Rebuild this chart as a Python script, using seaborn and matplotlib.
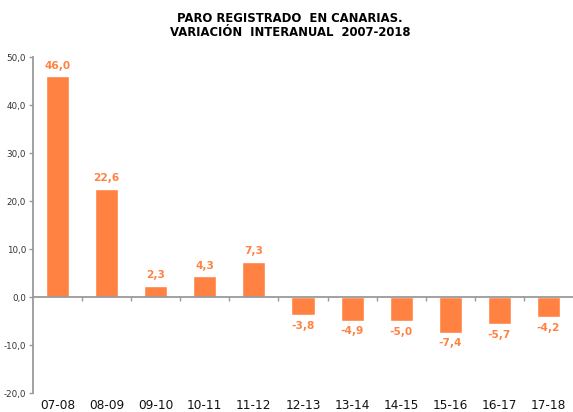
import matplotlib
matplotlib.use("Agg")
import matplotlib.pyplot as plt
import matplotlib.transforms as mtransforms
import seaborn as sns
import pandas as pd

# Data
periods = ["07-08", "08-09", "09-10", "10-11", "11-12", "12-13",
           "13-14", "14-15", "15-16", "16-17", "17-18"]
variation = [46.0, 22.6, 2.3, 4.3, 7.3, -3.8, -4.9, -5.0, -7.4, -5.7, -4.2]
y_ticks = [-20, -10, 0, 10, 20, 30, 40, 50]

orange = "#FF8243"
grey = "#9a9a9a"

df = pd.DataFrame({"periodo": periods, "variacion": variation})

sns.set_style("white")
plt.rcParams["font.family"] = ["DejaVu Sans"]

fig = plt.figure(figsize=(5.73, 4.12), dpi=100)
ax = fig.add_axes([33 / 573, 1 - 393 / 412, 1 - 33 / 573, (393 - 57) / 412])

sns.barplot(data=df, x="periodo", y="variacion", color=orange,
            saturation=1, width=0.47, ax=ax)

ax.set_ylim(-20, 50)
ax.set_xlim(-0.5, len(periods) - 0.5)
ax.set_yticks(y_ticks)
ax.set_yticklabels([f"{v:.1f}".replace(".", ",") for v in y_ticks],
                   fontsize=6.3, color="#333333")
ax.set_xlabel("")
ax.set_ylabel("")

# spines: left axis and the zero line
for side in ["top", "right"]:
    ax.spines[side].set_visible(False)
ax.spines["left"].set_color(grey)
ax.spines["left"].set_linewidth(1.3)
ax.spines["bottom"].set_position(("data", 0))
ax.spines["bottom"].set_color(grey)
ax.spines["bottom"].set_linewidth(1.3)

ax.tick_params(axis="y", direction="out", length=3, width=1, color=grey, pad=2, left=True)
# boundary ticks on the zero line
bounds = [i + 0.5 for i in range(len(periods) - 1)]
ax.set_xticks(bounds)
ax.set_xticklabels([])
ax.tick_params(axis="x", direction="out", length=3, width=1, color=grey, bottom=True)

# category labels below the plot
trans = mtransforms.blended_transform_factory(ax.transData, ax.transAxes)
for i, p in enumerate(periods):
    ax.text(i, -0.036, p, transform=trans, ha="center", va="center",
            fontsize=8.7, color="#111111")

# value labels
for i, v in enumerate(variation):
    lab = f"{v:.1f}".replace(".", ",")
    if v >= 0:
        ax.annotate(lab, (i, v), xytext=(0, 4), textcoords="offset points",
                    ha="center", va="bottom", fontsize=7.6, fontweight="bold", color=orange)
    else:
        ax.annotate(lab, (i, v), xytext=(0, -4), textcoords="offset points",
                    ha="center", va="top", fontsize=7.6, fontweight="bold", color=orange)

fig.text(290 / 573, 1 - 19 / 412, "PARO REGISTRADO  EN CANARIAS.", ha="center", va="center",
         fontsize=8.4, fontweight="bold", color="black")
fig.text(290 / 573, 1 - 33 / 412, "VARIACIÓN  INTERANUAL  2007-2018", ha="center", va="center",
         fontsize=8.4, fontweight="bold", color="black")

fig.savefig("out.png", dpi=100)
